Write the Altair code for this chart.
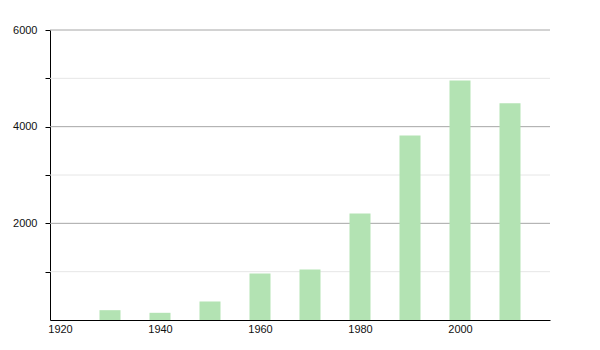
import altair as alt
import pandas as pd

years = [1930, 1940, 1950, 1960, 1970, 1980, 1990, 2000, 2010]
population = [203, 149, 383, 962, 1045, 2204, 3817, 4955, 4486]
major_grid = [2000, 4000, 6000]
minor_grid = [1000, 3000, 5000]
y_ticks = [1000, 2000, 3000, 4000, 5000, 6000]
x_labels = [1920, 1940, 1960, 1980, 2000]

df = pd.DataFrame({"year": years, "pop": population})
df_major = pd.DataFrame({"pop": major_grid})
df_minor = pd.DataFrame({"pop": minor_grid})

xscale = alt.Scale(domain=[1918, 2018], nice=False, zero=False, padding=0)
yscale = alt.Scale(domain=[0, 6000], nice=False)

yaxis = alt.Axis(
    values=y_ticks,
    labelExpr="datum.value % 2000 == 0 ? datum.label : ''",
    format="d",
    title=None,
    grid=False,
    tickSize=5,
    tickColor="#000000",
    labelPadding=8,
    domainColor="#000000",
)

minor = alt.Chart(df_minor).mark_rule(color="#e6e6e6", strokeWidth=1).encode(
    y=alt.Y("pop:Q", scale=yscale, axis=yaxis)
)
major = alt.Chart(df_major).mark_rule(color="#a6a6a6", strokeWidth=1).encode(
    y=alt.Y("pop:Q", scale=yscale, axis=yaxis)
)

bars = alt.Chart(df).mark_bar(color="#b3e3b3", size=21).encode(
    x=alt.X(
        "year:Q",
        scale=xscale,
        axis=alt.Axis(
            values=x_labels,
            format="d",
            title=None,
            ticks=False,
            grid=False,
            labelPadding=3,
            domainColor="#000000",
            labelFlush=False,
        ),
    ),
    y=alt.Y("pop:Q", scale=yscale, axis=yaxis),
)

chart = (
    alt.layer(minor, major, bars)
    .properties(
        width=500,
        height=290,
        autosize=alt.AutoSizeParams(type="none"),
        padding={"left": 50, "top": 30, "right": 50, "bottom": 30},
    )
    .configure_view(stroke=None)
    .configure_axis(
        labelFont="Liberation Sans",
        labelFontSize=11,
        labelColor="#111111",
        domainWidth=1,
    )
)

chart.save("out.html", embed_options={"renderer": "svg", "actions": False})
